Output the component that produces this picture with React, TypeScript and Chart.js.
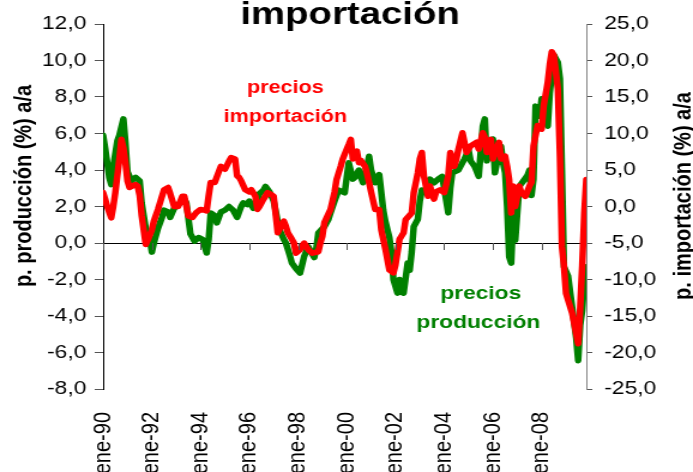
import React, { useEffect, useRef } from "react";
import { Chart, registerables } from "chart.js";

Chart.register(...registerables);

// months since ene-1990
const xTickMonths = [0, 24, 48, 72, 96, 120, 144, 168, 192, 216];
const xTickLabels = ["ene-90", "ene-92", "ene-94", "ene-96", "ene-98", "ene-00", "ene-02", "ene-04", "ene-06", "ene-08"];
const leftTicks = [-8, 12, 2];
const rightTicks = [-25, 25, 5];

// precios producción (% a/a), left axis
const prodMonths = [0, 1, 3, 4, 5, 7, 8, 10, 11, 12, 14, 16, 18, 19, 21, 23, 24, 25, 27, 29, 30, 32, 33, 35, 37, 40, 41, 43, 45, 47, 49, 51, 52, 53, 55, 56, 58, 60, 62, 64, 66, 68, 69, 71, 72, 74, 76, 77, 79, 80, 82, 84, 86, 87, 89, 90, 92, 93, 95, 97, 98, 99, 101, 102, 104, 105, 106, 109, 111, 112, 114, 116, 118, 119, 120, 121, 123, 124, 126, 127, 128, 130, 131, 132, 134, 135, 136, 137, 138, 139, 141, 142, 143, 145, 146, 147, 148, 150, 151, 152, 153, 155, 156, 157, 159, 161, 163, 165, 167, 168, 170, 171, 172, 175, 177, 178, 180, 181, 183, 185, 186, 187, 188, 189, 190, 192, 193, 195, 196, 197, 198, 199, 200, 201, 202, 203, 205, 207, 209, 210, 211, 212, 213, 215, 216, 218, 219, 220, 221, 222, 223, 224, 225, 226, 227, 229, 231, 233, 234, 235, 236, 237, 238];
const prodValues = [5.9, 5.2, 3.6, 3.2, 4.2, 5.6, 5.9, 6.8, 5.5, 3.9, 3.4, 3.6, 3.4, 2.2, 0.8, 0.2, -0.5, 0.0, 0.8, 1.4, 1.8, 1.7, 1.4, 1.9, 2.1, 2.4, 2.2, 0.5, 0.1, 0.3, 0.2, -0.55, 0.2, 1.65, 1.5, 1.1, 1.7, 1.8, 2.0, 1.8, 1.4, 2.0, 2.2, 2.1, 2.3, 1.9, 2.3, 2.7, 2.9, 3.1, 2.8, 2.3, 1.2, 0.7, 0.2, 0.0, -0.7, -1.1, -1.4, -1.65, -1.2, -0.75, -0.2, -0.4, -0.8, -0.3, 0.55, 0.9, 1.3, 1.65, 2.3, 2.9, 2.8, 2.75, 3.6, 4.4, 3.5, 3.6, 4.0, 3.6, 3.3, 4.2, 4.75, 4.0, 3.3, 3.6, 3.75, 2.8, 1.8, 1.2, 0.3, -0.5, -2.0, -2.75, -2.0, -2.3, -2.75, -1.1, -1.5, -0.5, 0.9, 1.3, 2.3, 2.9, 2.75, 3.5, 3.3, 3.5, 3.65, 3.0, 1.65, 3.0, 3.85, 4.0, 4.4, 4.6, 5.1, 4.5, 4.2, 3.65, 5.0, 6.4, 6.8, 4.5, 5.0, 5.7, 3.85, 5.0, 5.3, 4.4, 3.85, 2.0, -0.75, -1.1, 1.45, 0.15, 3.1, 3.4, 3.7, 4.0, 2.6, 3.5, 7.5, 6.95, 7.9, 7.0, 6.4, 8.2, 9.2, 10.3, 10.1, 9.9, 9.0, 4.0, -1.3, -1.8, -3.5, -5.2, -6.45, -4.5, -3.7, -2.0, -1.3];

// precios importación (% a/a), right axis
const impMonths = [0, 1, 2, 4, 5, 6, 8, 9, 10, 11, 12, 13, 15, 16, 17, 18, 19, 21, 22, 24, 25, 27, 28, 30, 32, 33, 35, 37, 39, 40, 42, 44, 46, 48, 50, 51, 52, 53, 55, 57, 58, 60, 62, 63, 65, 66, 67, 68, 70, 72, 73, 75, 76, 77, 79, 81, 83, 84, 86, 87, 89, 90, 91, 93, 94, 95, 97, 99, 101, 103, 106, 107, 108, 109, 111, 112, 114, 115, 117, 118, 120, 121, 122, 123, 125, 126, 127, 129, 130, 131, 132, 134, 136, 137, 139, 141, 143, 144, 146, 148, 149, 151, 152, 153, 155, 156, 157, 158, 160, 161, 163, 164, 166, 168, 169, 170, 171, 173, 174, 175, 177, 179, 181, 184, 185, 187, 188, 189, 191, 192, 195, 196, 198, 199, 200, 201, 202, 203, 205, 206, 208, 210, 211, 212, 214, 216, 217, 219, 220, 221, 222, 223, 224, 225, 226, 227, 228, 231, 233, 234, 235, 236, 237, 238];
const impValues = [1.9, 1.0, 0.0, -1.55, 0.0, 1.9, 6.5, 9.2, 8.0, 6.0, 3.5, 2.6, 2.9, 3.0, 2.8, 1.5, -1.3, -5.2, -4.6, -3.2, -2.0, -0.4, 0.5, 2.3, 2.6, 1.8, 0.0, 0.0, 1.4, 1.4, -1.3, -1.5, -0.8, -0.4, -0.5, -0.6, 1.5, 3.3, 3.3, 4.8, 5.5, 5.1, 6.2, 6.7, 6.5, 4.2, 4.0, 3.5, 2.3, 2.0, 2.3, 1.4, -0.4, 0.0, 1.0, 1.9, 1.6, 1.4, -3.6, -3.0, -2.0, -2.7, -3.6, -4.5, -5.0, -6.4, -5.9, -5.0, -5.9, -6.4, -6.2, -5.0, -4.1, -2.2, -1.0, -0.4, 2.0, 3.7, 5.5, 6.5, 7.85, 8.5, 9.2, 6.5, 7.6, 6.0, 6.3, 5.5, 4.5, 3.3, 2.0, -0.4, -0.4, -3.2, -5.8, -8.7, -9.1, -8.0, -4.5, -3.6, -1.8, -1.2, -0.9, 1.9, 4.6, 6.5, 7.4, 4.2, 1.4, 2.8, 1.0, 2.0, 2.3, 1.9, 3.0, 4.2, 7.4, 5.5, 6.5, 7.85, 10.1, 7.4, 8.3, 8.8, 7.85, 10.1, 9.5, 7.4, 9.2, 6.5, 8.8, 6.5, 6.9, 5.5, 3.7, -0.9, 2.8, 0.0, 2.8, 1.9, 1.4, 2.8, 3.3, 8.3, 11.1, 10.6, 13.8, 17.0, 19.5, 21.2, 20.7, 18.5, 16.1, 6.9, -5.5, -8.2, -11.9, -14.6, -17.4, -18.8, -13.7, -8.0, -0.9, 3.7];

const GREEN = "#008000";
const RED = "#ff0000";
const FONT = "'Liberation Sans', Arial, sans-serif";

// the reference is horizontally stretched ~1.2x
const W_INTERNAL = 578;
const H = 472;

const fmt = (v: number) => v.toFixed(1).replace(".", ",");

const textPlugin = {
  id: "texts",
  afterDraw(chart: any) {
    const ctx = chart.ctx as CanvasRenderingContext2D;
    const xs = chart.scales.x;
    const yl = chart.scales.yL;
    ctx.save();
    // zero-line tick marks
    const y0 = yl.getPixelForValue(0);
    ctx.strokeStyle = "#555";
    ctx.lineWidth = 1;
    xTickMonths.forEach((m) => {
      const px = Math.round(xs.getPixelForValue(m)) + 0.5;
      ctx.beginPath();
      ctx.moveTo(px, y0);
      ctx.lineTo(px, y0 + 7);
      ctx.stroke();
    });
    // main title (cut at top)
    ctx.fillStyle = "#000";
    ctx.font = `bold 32px ${FONT}`;
    ctx.textAlign = "center";
    ctx.textBaseline = "alphabetic";
    ctx.fillText("importación", 292, 24);
    // axis titles
    ctx.font = `bold 20px ${FONT}`;
    ctx.textBaseline = "middle";
    ctx.save();
    ctx.translate(20, 186);
    ctx.rotate(-Math.PI / 2);
    ctx.fillText("p. producción (%) a/a", 0, 0);
    ctx.restore();
    ctx.save();
    ctx.translate(570, 196);
    ctx.rotate(-Math.PI / 2);
    ctx.fillText("p. importación (%) a/a", 0, 0);
    ctx.restore();
    // series annotations
    ctx.textBaseline = "alphabetic";
    ctx.font = `bold 18px ${FONT}`;
    ctx.fillStyle = RED;
    ctx.fillText("precios", 238, 93);
    ctx.fillText("importación", 238, 122);
    ctx.font = `bold 19px ${FONT}`;
    ctx.fillStyle = GREEN;
    ctx.fillText("precios", 401, 299);
    ctx.fillText("producción", 399, 328);
    ctx.restore();
  },
};

export default function App() {
  const ref = useRef<HTMLCanvasElement | null>(null);
  useEffect(() => {
    const canvas = ref.current;
    if (!canvas) return;
    const chart = new Chart(canvas, {
      type: "line",
      data: {
        datasets: [
          {
            label: "precios importación",
            data: impMonths.map((m, i) => ({ x: m, y: impValues[i] })),
            yAxisID: "yR",
            borderColor: RED,
            backgroundColor: RED,
            borderWidth: 5.5,
            pointRadius: 0,
            tension: 0,
            borderJoinStyle: "round",
            borderCapStyle: "round",
          },
          {
            label: "precios producción",
            data: prodMonths.map((m, i) => ({ x: m, y: prodValues[i] })),
            yAxisID: "yL",
            borderColor: GREEN,
            backgroundColor: GREEN,
            borderWidth: 5.5,
            pointRadius: 0,
            tension: 0,
            borderJoinStyle: "round",
            borderCapStyle: "round",
          },
        ],
      },
      options: {
        responsive: false,
        animation: false,
        devicePixelRatio: 1,
        layout: { padding: { top: 24, left: 0, right: 0, bottom: 0 } },
        plugins: { legend: { display: false }, tooltip: { enabled: false }, title: { display: false } },
        scales: {
          x: {
            type: "linear",
            min: 0,
            max: 238,
            afterBuildTicks: (s: any) => {
              s.ticks = xTickMonths.map((v) => ({ value: v }));
            },
            afterFit: (s: any) => {
              s.height = H - 389;
            },
            grid: { display: false, drawTicks: false },
            border: { display: false },
            ticks: {
              autoSkip: false,
              minRotation: 90,
              maxRotation: 90,
              padding: 23,
              color: "#000",
              font: { family: FONT, size: 20 },
              callback: (v: any) => {
                const i = xTickMonths.indexOf(Number(v));
                return i >= 0 ? xTickLabels[i] : "";
              },
            },
          },
          yL: {
            position: "left",
            min: leftTicks[0],
            max: leftTicks[1],
            afterFit: (s: any) => {
              s.width = 86;
            },
            grid: {
              drawOnChartArea: true,
              color: (c: any) => (c.tick && c.tick.value === 0 ? "#000" : "rgba(0,0,0,0)"),
              tickColor: "#555",
              tickLength: 7,
              lineWidth: 1,
            },
            border: { display: true, color: "#000", width: 1 },
            ticks: {
              stepSize: leftTicks[2],
              padding: 7,
              color: "#000",
              font: { family: FONT, size: 19 },
              callback: (v: any) => fmt(Number(v)),
            },
          },
          yR: {
            position: "right",
            min: rightTicks[0],
            max: rightTicks[1],
            afterFit: (s: any) => {
              s.width = W_INTERNAL - 489;
            },
            grid: {
              drawOnChartArea: false,
              tickColor: "#555",
              tickLength: 5,
            },
            border: { display: true, color: "#808080", width: 1 },
            ticks: {
              stepSize: rightTicks[2],
              padding: 10,
              color: "#000",
              font: { family: FONT, size: 19 },
              callback: (v: any) => fmt(Number(v)),
            },
          },
        },
      },
      plugins: [textPlugin],
    } as any);
    return () => chart.destroy();
  }, []);
  return (
    <div style={{ position: "fixed", left: 0, top: 0, width: 693, height: H, background: "#fff", overflow: "hidden" }}>
      <canvas ref={ref} width={W_INTERNAL} height={H} style={{ width: "693px", height: `${H}px`, display: "block" }} />
    </div>
  );
}
